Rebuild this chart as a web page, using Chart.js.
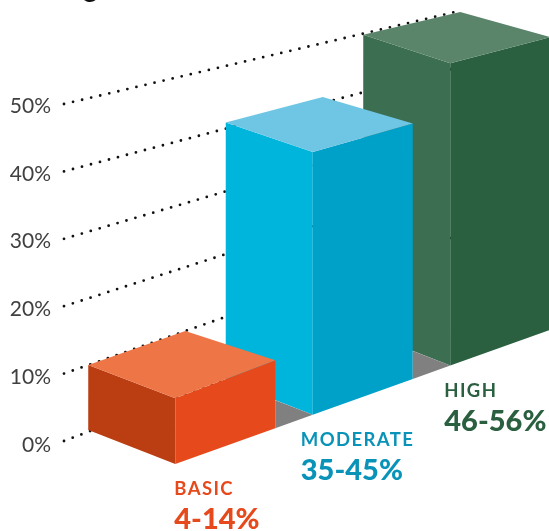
<!DOCTYPE html>
<html>
<head>
<meta charset="utf-8">
<style>html,body{margin:0;padding:0;background:#fff}canvas{display:block}</style>
<script src="https://cdn.jsdelivr.net/npm/chart.js@4"></script>
</head>
<body>
<canvas id="c" width="549" height="531"></canvas>
<script>
const categories = ["BASIC", "MODERATE", "HIGH"];
const ranges = ["4-14%", "35-45%", "46-56%"];
const values = [10, 41, 49.8];
const topColors = ["#EE7545", "#6EC6E4", "#5A856A"];
const leftColors = ["#BB3D12", "#00B5DC", "#3C6E51"];
const rightColors = ["#E64A1C", "#00A1C9", "#2A6040"];
const textColors = ["#E64A1C", "#0A93B8", "#2A6040"];
const labelShift = [-1, -12, -6];

// perspective: every receding line runs to one vanishing point
const VP = {x: 2390, y: -443};
const GRID_X = 64, GRID_END = 455;
const DEPTH = 100, BACK_DEPTH = 97;
const FLOOR_SLOPE = 0.358, FLOOR_DROP = 19;

function towardVP(p, x) {
  const s = (VP.y - p.y) / (VP.x - p.x);
  return {x, y: p.y + s * (x - p.x)};
}
function leftSlope(y) { return 0.32 + 0.00017 * y; }
function poly(ctx, pts, fill) {
  ctx.beginPath();
  pts.forEach((p, i) => i ? ctx.lineTo(p.x, p.y) : ctx.moveTo(p.x, p.y));
  ctx.closePath();
  ctx.fillStyle = fill;
  ctx.fill();
}

const bars3d = {
  id: "bars3d",
  afterDatasetsDraw(chart) {
    const ctx = chart.ctx, yS = chart.scales.y;
    const meta = chart.getDatasetMeta(0).data;
    const gridStart = v => ({x: GRID_X, y: yS.getPixelForValue(v) - 4 + v * 0.04});
    ctx.save();
    // stray descender of the cropped heading
    ctx.fillStyle = "#111";
    ctx.font = "28px Lato";
    ctx.textBaseline = "alphabetic";
    ctx.fillText("g", 83, -3);

    // dotted receding grid lines
    ctx.strokeStyle = "#111";
    ctx.lineWidth = 2.8;
    ctx.lineCap = "round";
    ctx.setLineDash([0, 9.3]);
    yS.ticks.forEach(t => {
      const a = gridStart(t.value), b = towardVP(a, GRID_END);
      ctx.beginPath(); ctx.moveTo(a.x, a.y); ctx.lineTo(b.x, b.y); ctx.stroke();
    });
    ctx.setLineDash([]);

    const floorY = x => yS.getPixelForValue(0) + FLOOR_DROP - FLOOR_SLOPE * (x - meta[0].x - meta[0].width / 2);
    const geom = meta.map((bar, i) => {
      const lx = bar.x - bar.width / 2, fx = bar.x + bar.width / 2;
      const tl = towardVP(gridStart(values[i]), lx);
      const tf = {x: fx, y: tl.y + leftSlope(tl.y) * bar.width};
      const tr = towardVP(tf, fx + DEPTH);
      const tb = towardVP(tl, lx + BACK_DEPTH);
      const bf = {x: fx, y: floorY(fx)};
      const br = {x: fx + DEPTH, y: floorY(fx + DEPTH)};
      const bl = {x: lx, y: bf.y - 0.39 * bar.width};
      return {tl, tf, tr, tb, bf, br, bl};
    });
    for (let i = geom.length - 1; i >= 0; i--) {
      const g = geom[i];
      poly(ctx, [g.tl, g.tf, g.bf, g.bl], leftColors[i]);
      poly(ctx, [g.tf, g.tr, g.br, g.bf], rightColors[i]);
      poly(ctx, [g.tl, g.tb, g.tr, g.tf], topColors[i]);
    }
    // grey floor wedge between neighbouring bars
    for (let i = 0; i < geom.length - 1; i++) {
      const r = geom[i].br, f = geom[i + 1].bf, bl = geom[i + 1].bl;
      const t = (r.x - bl.x) / (f.x - bl.x);
      poly(ctx, [r, f, {x: r.x, y: bl.y + t * (f.y - bl.y)}], "#808080");
    }
    // category captions
    ctx.textAlign = "left";
    geom.forEach((g, i) => {
      ctx.fillStyle = textColors[i];
      ctx.font = "bold 18.5px Lato";
      ctx.letterSpacing = "1.4px";
      ctx.fillText(categories[i], g.bf.x + labelShift[i], g.bf.y + 31);
      ctx.font = "900 29px Lato";
      ctx.letterSpacing = "0px";
      ctx.fillText(ranges[i], g.bf.x + labelShift[i], g.bf.y + 65);
    });
    ctx.restore();
  }
};

new Chart(document.getElementById("c"), {
  type: "bar",
  data: {
    labels: categories,
    datasets: [{data: values, backgroundColor: "rgba(0,0,0,0)", barPercentage: 0.633, categoryPercentage: 1}]
  },
  options: {
    responsive: false,
    animation: false,
    events: [],
    layout: {padding: {top: 106, bottom: 86, left: 0, right: 73.5}},
    plugins: {legend: {display: false}, tooltip: {enabled: false}, title: {display: false}},
    scales: {
      x: {display: false},
      y: {
        min: 0, max: 50,
        afterFit(s) { s.width = 63; },
        grid: {display: false},
        border: {display: false},
        ticks: {
          stepSize: 10,
          padding: 4,
          color: "#404040",
          font: {family: "Lato", size: 21},
          callback: v => v + "%"
        }
      }
    }
  },
  plugins: [bars3d]
});
</script>
</body>
</html>
